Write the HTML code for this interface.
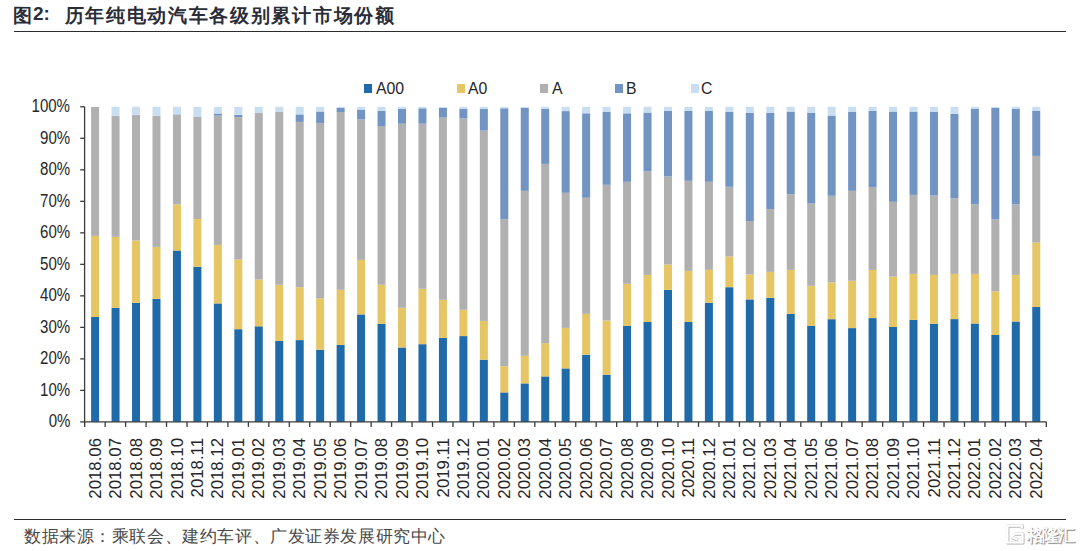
<!DOCTYPE html>
<html><head><meta charset="utf-8">
<style>
html,body{margin:0;padding:0;background:#fff;}
body{width:1080px;height:551px;position:relative;overflow:hidden;font-family:"Liberation Sans",sans-serif;color:#262626;}
.t1,.t2,.t3{position:absolute;white-space:nowrap;color:#2a2d38;font-weight:bold;}
.t1{left:13px;top:3px;font-size:18.5px;}
.t2{left:33px;top:3px;font-size:19px;}
.t3{left:64.5px;top:3px;font-size:19px;letter-spacing:1.7px;}
.hline{position:absolute;left:14px;width:1052px;height:1.3px;background:#2c2c2c;}
.leg{position:absolute;top:79px;font-size:17px;line-height:20px;white-space:nowrap;transform:scaleX(0.93);transform-origin:left center;}
.sw{position:absolute;width:8px;height:8.7px;top:84px;}
.yl{position:absolute;right:1009.7px;font-size:17.6px;line-height:21px;transform:scaleX(0.855);transform-origin:right center;white-space:nowrap;}
.xl{position:absolute;top:438px;font-size:16.8px;line-height:20px;white-space:nowrap;transform-origin:0 0;transform:rotate(-90deg) translate(-100%,-10px);}
.src{position:absolute;left:24px;top:526px;font-size:16.5px;letter-spacing:0.58px;white-space:nowrap;color:#474747;font-family:"Liberation Serif",serif;}
.wm{position:absolute;left:1027px;top:524px;font-size:17px;font-weight:bold;letter-spacing:-1.6px;color:#fff;white-space:nowrap;text-shadow:0.7px 0.7px 0.8px rgba(0,0,0,0.5),-0.4px -0.4px 0.6px rgba(0,0,0,0.2);}

svg{position:absolute;left:0;top:0;}
</style></head><body>
<div class="t1">图</div><div class="t2">2:</div><div class="t3">历年纯电动汽车各级别累计市场份额</div>
<div class="hline" style="top:30.8px"></div>
<svg width="1080" height="551" viewBox="0 0 1080 551">
<rect x="91.10" y="317.00" width="8.0" height="104.90" fill="#1f6aa8"/><rect x="91.10" y="235.90" width="8.0" height="81.10" fill="#e6c565"/><rect x="91.10" y="107.00" width="8.0" height="128.90" fill="#b0b0b0"/><rect x="111.56" y="307.80" width="8.0" height="114.10" fill="#1f6aa8"/><rect x="111.56" y="236.90" width="8.0" height="70.90" fill="#e6c565"/><rect x="111.56" y="115.70" width="8.0" height="121.20" fill="#b0b0b0"/><rect x="111.56" y="106.80" width="8.0" height="8.90" fill="#c9def1"/><rect x="132.02" y="302.80" width="8.0" height="119.10" fill="#1f6aa8"/><rect x="132.02" y="240.50" width="8.0" height="62.30" fill="#e6c565"/><rect x="132.02" y="115.20" width="8.0" height="125.30" fill="#b0b0b0"/><rect x="132.02" y="114.80" width="8.0" height="0.40" fill="#7294c2"/><rect x="132.02" y="106.80" width="8.0" height="8.00" fill="#c9def1"/><rect x="152.48" y="298.80" width="8.0" height="123.10" fill="#1f6aa8"/><rect x="152.48" y="246.90" width="8.0" height="51.90" fill="#e6c565"/><rect x="152.48" y="115.70" width="8.0" height="131.20" fill="#b0b0b0"/><rect x="152.48" y="106.80" width="8.0" height="8.90" fill="#c9def1"/><rect x="172.94" y="250.50" width="8.0" height="171.40" fill="#1f6aa8"/><rect x="172.94" y="204.50" width="8.0" height="46.00" fill="#e6c565"/><rect x="172.94" y="114.80" width="8.0" height="89.70" fill="#b0b0b0"/><rect x="172.94" y="114.40" width="8.0" height="0.40" fill="#7294c2"/><rect x="172.94" y="106.80" width="8.0" height="7.60" fill="#c9def1"/><rect x="193.40" y="266.90" width="8.0" height="155.00" fill="#1f6aa8"/><rect x="193.40" y="219.00" width="8.0" height="47.90" fill="#e6c565"/><rect x="193.40" y="117.00" width="8.0" height="102.00" fill="#b0b0b0"/><rect x="193.40" y="106.80" width="8.0" height="10.20" fill="#c9def1"/><rect x="213.86" y="303.40" width="8.0" height="118.50" fill="#1f6aa8"/><rect x="213.86" y="244.90" width="8.0" height="58.50" fill="#e6c565"/><rect x="213.86" y="115.70" width="8.0" height="129.20" fill="#b0b0b0"/><rect x="213.86" y="113.50" width="8.0" height="2.20" fill="#7294c2"/><rect x="213.86" y="106.80" width="8.0" height="6.70" fill="#c9def1"/><rect x="234.32" y="329.20" width="8.0" height="92.70" fill="#1f6aa8"/><rect x="234.32" y="259.30" width="8.0" height="69.90" fill="#e6c565"/><rect x="234.32" y="117.00" width="8.0" height="142.30" fill="#b0b0b0"/><rect x="234.32" y="114.80" width="8.0" height="2.20" fill="#7294c2"/><rect x="234.32" y="106.80" width="8.0" height="8.00" fill="#c9def1"/><rect x="254.78" y="326.30" width="8.0" height="95.60" fill="#1f6aa8"/><rect x="254.78" y="279.50" width="8.0" height="46.80" fill="#e6c565"/><rect x="254.78" y="112.60" width="8.0" height="166.90" fill="#b0b0b0"/><rect x="254.78" y="106.80" width="8.0" height="5.80" fill="#c9def1"/><rect x="275.24" y="340.90" width="8.0" height="81.00" fill="#1f6aa8"/><rect x="275.24" y="284.80" width="8.0" height="56.10" fill="#e6c565"/><rect x="275.24" y="112.00" width="8.0" height="172.80" fill="#b0b0b0"/><rect x="275.24" y="106.80" width="8.0" height="5.20" fill="#c9def1"/><rect x="295.70" y="340.10" width="8.0" height="81.80" fill="#1f6aa8"/><rect x="295.70" y="287.20" width="8.0" height="52.90" fill="#e6c565"/><rect x="295.70" y="121.90" width="8.0" height="165.30" fill="#b0b0b0"/><rect x="295.70" y="114.40" width="8.0" height="7.50" fill="#7294c2"/><rect x="295.70" y="106.80" width="8.0" height="7.60" fill="#c9def1"/><rect x="316.16" y="349.70" width="8.0" height="72.20" fill="#1f6aa8"/><rect x="316.16" y="298.40" width="8.0" height="51.30" fill="#e6c565"/><rect x="316.16" y="123.10" width="8.0" height="175.30" fill="#b0b0b0"/><rect x="316.16" y="111.50" width="8.0" height="11.60" fill="#7294c2"/><rect x="316.16" y="106.80" width="8.0" height="4.70" fill="#c9def1"/><rect x="336.62" y="344.90" width="8.0" height="77.00" fill="#1f6aa8"/><rect x="336.62" y="289.80" width="8.0" height="55.10" fill="#e6c565"/><rect x="336.62" y="112.00" width="8.0" height="177.80" fill="#b0b0b0"/><rect x="336.62" y="108.00" width="8.0" height="4.00" fill="#7294c2"/><rect x="336.62" y="106.80" width="8.0" height="1.20" fill="#c9def1"/><rect x="357.08" y="314.40" width="8.0" height="107.50" fill="#1f6aa8"/><rect x="357.08" y="259.90" width="8.0" height="54.50" fill="#e6c565"/><rect x="357.08" y="119.40" width="8.0" height="140.50" fill="#b0b0b0"/><rect x="357.08" y="109.60" width="8.0" height="9.80" fill="#7294c2"/><rect x="357.08" y="106.80" width="8.0" height="2.80" fill="#c9def1"/><rect x="377.54" y="323.70" width="8.0" height="98.20" fill="#1f6aa8"/><rect x="377.54" y="284.80" width="8.0" height="38.90" fill="#e6c565"/><rect x="377.54" y="126.00" width="8.0" height="158.80" fill="#b0b0b0"/><rect x="377.54" y="110.70" width="8.0" height="15.30" fill="#7294c2"/><rect x="377.54" y="106.80" width="8.0" height="3.90" fill="#c9def1"/><rect x="398.00" y="347.50" width="8.0" height="74.40" fill="#1f6aa8"/><rect x="398.00" y="307.80" width="8.0" height="39.70" fill="#e6c565"/><rect x="398.00" y="123.70" width="8.0" height="184.10" fill="#b0b0b0"/><rect x="398.00" y="108.90" width="8.0" height="14.80" fill="#7294c2"/><rect x="398.00" y="106.80" width="8.0" height="2.10" fill="#c9def1"/><rect x="418.46" y="344.20" width="8.0" height="77.70" fill="#1f6aa8"/><rect x="418.46" y="288.80" width="8.0" height="55.40" fill="#e6c565"/><rect x="418.46" y="123.70" width="8.0" height="165.10" fill="#b0b0b0"/><rect x="418.46" y="108.30" width="8.0" height="15.40" fill="#7294c2"/><rect x="418.46" y="106.80" width="8.0" height="1.50" fill="#c9def1"/><rect x="438.92" y="337.90" width="8.0" height="84.00" fill="#1f6aa8"/><rect x="438.92" y="299.80" width="8.0" height="38.10" fill="#e6c565"/><rect x="438.92" y="117.60" width="8.0" height="182.20" fill="#b0b0b0"/><rect x="438.92" y="107.80" width="8.0" height="9.80" fill="#7294c2"/><rect x="438.92" y="106.80" width="8.0" height="1.00" fill="#c9def1"/><rect x="459.38" y="336.10" width="8.0" height="85.80" fill="#1f6aa8"/><rect x="459.38" y="309.80" width="8.0" height="26.30" fill="#e6c565"/><rect x="459.38" y="118.50" width="8.0" height="191.30" fill="#b0b0b0"/><rect x="459.38" y="108.90" width="8.0" height="9.60" fill="#7294c2"/><rect x="459.38" y="106.80" width="8.0" height="2.10" fill="#c9def1"/><rect x="479.84" y="359.70" width="8.0" height="62.20" fill="#1f6aa8"/><rect x="479.84" y="320.90" width="8.0" height="38.80" fill="#e6c565"/><rect x="479.84" y="130.60" width="8.0" height="190.30" fill="#b0b0b0"/><rect x="479.84" y="108.90" width="8.0" height="21.70" fill="#7294c2"/><rect x="479.84" y="106.80" width="8.0" height="2.10" fill="#c9def1"/><rect x="500.30" y="392.40" width="8.0" height="29.50" fill="#1f6aa8"/><rect x="500.30" y="366.20" width="8.0" height="26.20" fill="#e6c565"/><rect x="500.30" y="219.40" width="8.0" height="146.80" fill="#b0b0b0"/><rect x="500.30" y="108.30" width="8.0" height="111.10" fill="#7294c2"/><rect x="500.30" y="106.80" width="8.0" height="1.50" fill="#c9def1"/><rect x="520.76" y="383.40" width="8.0" height="38.50" fill="#1f6aa8"/><rect x="520.76" y="355.80" width="8.0" height="27.60" fill="#e6c565"/><rect x="520.76" y="190.80" width="8.0" height="165.00" fill="#b0b0b0"/><rect x="520.76" y="107.80" width="8.0" height="83.00" fill="#7294c2"/><rect x="520.76" y="106.80" width="8.0" height="1.00" fill="#c9def1"/><rect x="541.22" y="376.40" width="8.0" height="45.50" fill="#1f6aa8"/><rect x="541.22" y="343.10" width="8.0" height="33.30" fill="#e6c565"/><rect x="541.22" y="163.90" width="8.0" height="179.20" fill="#b0b0b0"/><rect x="541.22" y="108.90" width="8.0" height="55.00" fill="#7294c2"/><rect x="541.22" y="106.80" width="8.0" height="2.10" fill="#c9def1"/><rect x="561.68" y="368.40" width="8.0" height="53.50" fill="#1f6aa8"/><rect x="561.68" y="327.90" width="8.0" height="40.50" fill="#e6c565"/><rect x="561.68" y="192.80" width="8.0" height="135.10" fill="#b0b0b0"/><rect x="561.68" y="111.10" width="8.0" height="81.70" fill="#7294c2"/><rect x="561.68" y="106.80" width="8.0" height="4.30" fill="#c9def1"/><rect x="582.14" y="354.70" width="8.0" height="67.20" fill="#1f6aa8"/><rect x="582.14" y="313.90" width="8.0" height="40.80" fill="#e6c565"/><rect x="582.14" y="197.80" width="8.0" height="116.10" fill="#b0b0b0"/><rect x="582.14" y="113.30" width="8.0" height="84.50" fill="#7294c2"/><rect x="582.14" y="106.80" width="8.0" height="6.50" fill="#c9def1"/><rect x="602.60" y="374.70" width="8.0" height="47.20" fill="#1f6aa8"/><rect x="602.60" y="320.50" width="8.0" height="54.20" fill="#e6c565"/><rect x="602.60" y="184.80" width="8.0" height="135.70" fill="#b0b0b0"/><rect x="602.60" y="112.00" width="8.0" height="72.80" fill="#7294c2"/><rect x="602.60" y="106.80" width="8.0" height="5.20" fill="#c9def1"/><rect x="623.06" y="325.70" width="8.0" height="96.20" fill="#1f6aa8"/><rect x="623.06" y="283.80" width="8.0" height="41.90" fill="#e6c565"/><rect x="623.06" y="181.80" width="8.0" height="102.00" fill="#b0b0b0"/><rect x="623.06" y="113.30" width="8.0" height="68.50" fill="#7294c2"/><rect x="623.06" y="106.80" width="8.0" height="6.50" fill="#c9def1"/><rect x="643.52" y="322.00" width="8.0" height="99.90" fill="#1f6aa8"/><rect x="643.52" y="274.90" width="8.0" height="47.10" fill="#e6c565"/><rect x="643.52" y="171.30" width="8.0" height="103.60" fill="#b0b0b0"/><rect x="643.52" y="112.60" width="8.0" height="58.70" fill="#7294c2"/><rect x="643.52" y="106.80" width="8.0" height="5.80" fill="#c9def1"/><rect x="663.98" y="289.80" width="8.0" height="132.10" fill="#1f6aa8"/><rect x="663.98" y="264.50" width="8.0" height="25.30" fill="#e6c565"/><rect x="663.98" y="176.40" width="8.0" height="88.10" fill="#b0b0b0"/><rect x="663.98" y="110.70" width="8.0" height="65.70" fill="#7294c2"/><rect x="663.98" y="106.80" width="8.0" height="3.90" fill="#c9def1"/><rect x="684.44" y="322.00" width="8.0" height="99.90" fill="#1f6aa8"/><rect x="684.44" y="270.90" width="8.0" height="51.10" fill="#e6c565"/><rect x="684.44" y="180.80" width="8.0" height="90.10" fill="#b0b0b0"/><rect x="684.44" y="110.70" width="8.0" height="70.10" fill="#7294c2"/><rect x="684.44" y="106.80" width="8.0" height="3.90" fill="#c9def1"/><rect x="704.90" y="302.80" width="8.0" height="119.10" fill="#1f6aa8"/><rect x="704.90" y="269.90" width="8.0" height="32.90" fill="#e6c565"/><rect x="704.90" y="181.80" width="8.0" height="88.10" fill="#b0b0b0"/><rect x="704.90" y="111.00" width="8.0" height="70.80" fill="#7294c2"/><rect x="704.90" y="106.80" width="8.0" height="4.20" fill="#c9def1"/><rect x="725.36" y="287.20" width="8.0" height="134.70" fill="#1f6aa8"/><rect x="725.36" y="256.50" width="8.0" height="30.70" fill="#e6c565"/><rect x="725.36" y="186.80" width="8.0" height="69.70" fill="#b0b0b0"/><rect x="725.36" y="112.00" width="8.0" height="74.80" fill="#7294c2"/><rect x="725.36" y="106.80" width="8.0" height="5.20" fill="#c9def1"/><rect x="745.82" y="299.40" width="8.0" height="122.50" fill="#1f6aa8"/><rect x="745.82" y="274.50" width="8.0" height="24.90" fill="#e6c565"/><rect x="745.82" y="221.00" width="8.0" height="53.50" fill="#b0b0b0"/><rect x="745.82" y="113.00" width="8.0" height="108.00" fill="#7294c2"/><rect x="745.82" y="106.80" width="8.0" height="6.20" fill="#c9def1"/><rect x="766.28" y="297.80" width="8.0" height="124.10" fill="#1f6aa8"/><rect x="766.28" y="271.90" width="8.0" height="25.90" fill="#e6c565"/><rect x="766.28" y="209.00" width="8.0" height="62.90" fill="#b0b0b0"/><rect x="766.28" y="113.00" width="8.0" height="96.00" fill="#7294c2"/><rect x="766.28" y="106.80" width="8.0" height="6.20" fill="#c9def1"/><rect x="786.74" y="313.90" width="8.0" height="108.00" fill="#1f6aa8"/><rect x="786.74" y="269.90" width="8.0" height="44.00" fill="#e6c565"/><rect x="786.74" y="194.20" width="8.0" height="75.70" fill="#b0b0b0"/><rect x="786.74" y="111.60" width="8.0" height="82.60" fill="#7294c2"/><rect x="786.74" y="106.80" width="8.0" height="4.80" fill="#c9def1"/><rect x="807.20" y="325.70" width="8.0" height="96.20" fill="#1f6aa8"/><rect x="807.20" y="285.80" width="8.0" height="39.90" fill="#e6c565"/><rect x="807.20" y="203.40" width="8.0" height="82.40" fill="#b0b0b0"/><rect x="807.20" y="113.00" width="8.0" height="90.40" fill="#7294c2"/><rect x="807.20" y="106.80" width="8.0" height="6.20" fill="#c9def1"/><rect x="827.66" y="319.20" width="8.0" height="102.70" fill="#1f6aa8"/><rect x="827.66" y="282.40" width="8.0" height="36.80" fill="#e6c565"/><rect x="827.66" y="195.80" width="8.0" height="86.60" fill="#b0b0b0"/><rect x="827.66" y="115.60" width="8.0" height="80.20" fill="#7294c2"/><rect x="827.66" y="106.80" width="8.0" height="8.80" fill="#c9def1"/><rect x="848.12" y="328.10" width="8.0" height="93.80" fill="#1f6aa8"/><rect x="848.12" y="280.80" width="8.0" height="47.30" fill="#e6c565"/><rect x="848.12" y="190.80" width="8.0" height="90.00" fill="#b0b0b0"/><rect x="848.12" y="112.00" width="8.0" height="78.80" fill="#7294c2"/><rect x="848.12" y="106.80" width="8.0" height="5.20" fill="#c9def1"/><rect x="868.58" y="318.10" width="8.0" height="103.80" fill="#1f6aa8"/><rect x="868.58" y="269.90" width="8.0" height="48.20" fill="#e6c565"/><rect x="868.58" y="187.20" width="8.0" height="82.70" fill="#b0b0b0"/><rect x="868.58" y="111.00" width="8.0" height="76.20" fill="#7294c2"/><rect x="868.58" y="106.80" width="8.0" height="4.20" fill="#c9def1"/><rect x="889.04" y="327.00" width="8.0" height="94.90" fill="#1f6aa8"/><rect x="889.04" y="276.50" width="8.0" height="50.50" fill="#e6c565"/><rect x="889.04" y="201.80" width="8.0" height="74.70" fill="#b0b0b0"/><rect x="889.04" y="111.60" width="8.0" height="90.20" fill="#7294c2"/><rect x="889.04" y="106.80" width="8.0" height="4.80" fill="#c9def1"/><rect x="909.50" y="319.80" width="8.0" height="102.10" fill="#1f6aa8"/><rect x="909.50" y="273.90" width="8.0" height="45.90" fill="#e6c565"/><rect x="909.50" y="194.90" width="8.0" height="79.00" fill="#b0b0b0"/><rect x="909.50" y="111.60" width="8.0" height="83.30" fill="#7294c2"/><rect x="909.50" y="106.80" width="8.0" height="4.80" fill="#c9def1"/><rect x="929.96" y="323.70" width="8.0" height="98.20" fill="#1f6aa8"/><rect x="929.96" y="274.90" width="8.0" height="48.80" fill="#e6c565"/><rect x="929.96" y="195.50" width="8.0" height="79.40" fill="#b0b0b0"/><rect x="929.96" y="112.00" width="8.0" height="83.50" fill="#7294c2"/><rect x="929.96" y="106.80" width="8.0" height="5.20" fill="#c9def1"/><rect x="950.42" y="319.10" width="8.0" height="102.80" fill="#1f6aa8"/><rect x="950.42" y="273.90" width="8.0" height="45.20" fill="#e6c565"/><rect x="950.42" y="198.30" width="8.0" height="75.60" fill="#b0b0b0"/><rect x="950.42" y="114.00" width="8.0" height="84.30" fill="#7294c2"/><rect x="950.42" y="106.80" width="8.0" height="7.20" fill="#c9def1"/><rect x="970.88" y="323.50" width="8.0" height="98.40" fill="#1f6aa8"/><rect x="970.88" y="273.90" width="8.0" height="49.60" fill="#e6c565"/><rect x="970.88" y="204.30" width="8.0" height="69.60" fill="#b0b0b0"/><rect x="970.88" y="109.00" width="8.0" height="95.30" fill="#7294c2"/><rect x="970.88" y="106.80" width="8.0" height="2.20" fill="#c9def1"/><rect x="991.34" y="335.00" width="8.0" height="86.90" fill="#1f6aa8"/><rect x="991.34" y="291.30" width="8.0" height="43.70" fill="#e6c565"/><rect x="991.34" y="219.40" width="8.0" height="71.90" fill="#b0b0b0"/><rect x="991.34" y="108.00" width="8.0" height="111.40" fill="#7294c2"/><rect x="991.34" y="106.80" width="8.0" height="1.20" fill="#c9def1"/><rect x="1011.80" y="321.50" width="8.0" height="100.40" fill="#1f6aa8"/><rect x="1011.80" y="274.90" width="8.0" height="46.60" fill="#e6c565"/><rect x="1011.80" y="204.30" width="8.0" height="70.60" fill="#b0b0b0"/><rect x="1011.80" y="109.00" width="8.0" height="95.30" fill="#7294c2"/><rect x="1011.80" y="106.80" width="8.0" height="2.20" fill="#c9def1"/><rect x="1032.26" y="306.90" width="8.0" height="115.00" fill="#1f6aa8"/><rect x="1032.26" y="242.60" width="8.0" height="64.30" fill="#e6c565"/><rect x="1032.26" y="155.90" width="8.0" height="86.70" fill="#b0b0b0"/><rect x="1032.26" y="111.00" width="8.0" height="44.90" fill="#7294c2"/><rect x="1032.26" y="106.80" width="8.0" height="4.20" fill="#c9def1"/>
<line x1="84.6" y1="106.8" x2="84.6" y2="422.4" stroke="#3a3a3a" stroke-width="1.3"/><line x1="84.0" y1="421.9" x2="1046.62" y2="421.9" stroke="#3a3a3a" stroke-width="1.3"/><line x1="80.2" y1="421.90" x2="84.6" y2="421.90" stroke="#3a3a3a" stroke-width="1.3"/><line x1="80.2" y1="390.39" x2="84.6" y2="390.39" stroke="#3a3a3a" stroke-width="1.3"/><line x1="80.2" y1="358.88" x2="84.6" y2="358.88" stroke="#3a3a3a" stroke-width="1.3"/><line x1="80.2" y1="327.37" x2="84.6" y2="327.37" stroke="#3a3a3a" stroke-width="1.3"/><line x1="80.2" y1="295.86" x2="84.6" y2="295.86" stroke="#3a3a3a" stroke-width="1.3"/><line x1="80.2" y1="264.35" x2="84.6" y2="264.35" stroke="#3a3a3a" stroke-width="1.3"/><line x1="80.2" y1="232.84" x2="84.6" y2="232.84" stroke="#3a3a3a" stroke-width="1.3"/><line x1="80.2" y1="201.33" x2="84.6" y2="201.33" stroke="#3a3a3a" stroke-width="1.3"/><line x1="80.2" y1="169.82" x2="84.6" y2="169.82" stroke="#3a3a3a" stroke-width="1.3"/><line x1="80.2" y1="138.31" x2="84.6" y2="138.31" stroke="#3a3a3a" stroke-width="1.3"/><line x1="80.2" y1="106.80" x2="84.6" y2="106.80" stroke="#3a3a3a" stroke-width="1.3"/><line x1="84.70" y1="421.9" x2="84.70" y2="426.90" stroke="#3a3a3a" stroke-width="1.3"/><line x1="105.16" y1="421.9" x2="105.16" y2="426.90" stroke="#3a3a3a" stroke-width="1.3"/><line x1="125.62" y1="421.9" x2="125.62" y2="426.90" stroke="#3a3a3a" stroke-width="1.3"/><line x1="146.08" y1="421.9" x2="146.08" y2="426.90" stroke="#3a3a3a" stroke-width="1.3"/><line x1="166.54" y1="421.9" x2="166.54" y2="426.90" stroke="#3a3a3a" stroke-width="1.3"/><line x1="187.00" y1="421.9" x2="187.00" y2="426.90" stroke="#3a3a3a" stroke-width="1.3"/><line x1="207.46" y1="421.9" x2="207.46" y2="426.90" stroke="#3a3a3a" stroke-width="1.3"/><line x1="227.92" y1="421.9" x2="227.92" y2="426.90" stroke="#3a3a3a" stroke-width="1.3"/><line x1="248.38" y1="421.9" x2="248.38" y2="426.90" stroke="#3a3a3a" stroke-width="1.3"/><line x1="268.84" y1="421.9" x2="268.84" y2="426.90" stroke="#3a3a3a" stroke-width="1.3"/><line x1="289.30" y1="421.9" x2="289.30" y2="426.90" stroke="#3a3a3a" stroke-width="1.3"/><line x1="309.76" y1="421.9" x2="309.76" y2="426.90" stroke="#3a3a3a" stroke-width="1.3"/><line x1="330.22" y1="421.9" x2="330.22" y2="426.90" stroke="#3a3a3a" stroke-width="1.3"/><line x1="350.68" y1="421.9" x2="350.68" y2="426.90" stroke="#3a3a3a" stroke-width="1.3"/><line x1="371.14" y1="421.9" x2="371.14" y2="426.90" stroke="#3a3a3a" stroke-width="1.3"/><line x1="391.60" y1="421.9" x2="391.60" y2="426.90" stroke="#3a3a3a" stroke-width="1.3"/><line x1="412.06" y1="421.9" x2="412.06" y2="426.90" stroke="#3a3a3a" stroke-width="1.3"/><line x1="432.52" y1="421.9" x2="432.52" y2="426.90" stroke="#3a3a3a" stroke-width="1.3"/><line x1="452.98" y1="421.9" x2="452.98" y2="426.90" stroke="#3a3a3a" stroke-width="1.3"/><line x1="473.44" y1="421.9" x2="473.44" y2="426.90" stroke="#3a3a3a" stroke-width="1.3"/><line x1="493.90" y1="421.9" x2="493.90" y2="426.90" stroke="#3a3a3a" stroke-width="1.3"/><line x1="514.36" y1="421.9" x2="514.36" y2="426.90" stroke="#3a3a3a" stroke-width="1.3"/><line x1="534.82" y1="421.9" x2="534.82" y2="426.90" stroke="#3a3a3a" stroke-width="1.3"/><line x1="555.28" y1="421.9" x2="555.28" y2="426.90" stroke="#3a3a3a" stroke-width="1.3"/><line x1="575.74" y1="421.9" x2="575.74" y2="426.90" stroke="#3a3a3a" stroke-width="1.3"/><line x1="596.20" y1="421.9" x2="596.20" y2="426.90" stroke="#3a3a3a" stroke-width="1.3"/><line x1="616.66" y1="421.9" x2="616.66" y2="426.90" stroke="#3a3a3a" stroke-width="1.3"/><line x1="637.12" y1="421.9" x2="637.12" y2="426.90" stroke="#3a3a3a" stroke-width="1.3"/><line x1="657.58" y1="421.9" x2="657.58" y2="426.90" stroke="#3a3a3a" stroke-width="1.3"/><line x1="678.04" y1="421.9" x2="678.04" y2="426.90" stroke="#3a3a3a" stroke-width="1.3"/><line x1="698.50" y1="421.9" x2="698.50" y2="426.90" stroke="#3a3a3a" stroke-width="1.3"/><line x1="718.96" y1="421.9" x2="718.96" y2="426.90" stroke="#3a3a3a" stroke-width="1.3"/><line x1="739.42" y1="421.9" x2="739.42" y2="426.90" stroke="#3a3a3a" stroke-width="1.3"/><line x1="759.88" y1="421.9" x2="759.88" y2="426.90" stroke="#3a3a3a" stroke-width="1.3"/><line x1="780.34" y1="421.9" x2="780.34" y2="426.90" stroke="#3a3a3a" stroke-width="1.3"/><line x1="800.80" y1="421.9" x2="800.80" y2="426.90" stroke="#3a3a3a" stroke-width="1.3"/><line x1="821.26" y1="421.9" x2="821.26" y2="426.90" stroke="#3a3a3a" stroke-width="1.3"/><line x1="841.72" y1="421.9" x2="841.72" y2="426.90" stroke="#3a3a3a" stroke-width="1.3"/><line x1="862.18" y1="421.9" x2="862.18" y2="426.90" stroke="#3a3a3a" stroke-width="1.3"/><line x1="882.64" y1="421.9" x2="882.64" y2="426.90" stroke="#3a3a3a" stroke-width="1.3"/><line x1="903.10" y1="421.9" x2="903.10" y2="426.90" stroke="#3a3a3a" stroke-width="1.3"/><line x1="923.56" y1="421.9" x2="923.56" y2="426.90" stroke="#3a3a3a" stroke-width="1.3"/><line x1="944.02" y1="421.9" x2="944.02" y2="426.90" stroke="#3a3a3a" stroke-width="1.3"/><line x1="964.48" y1="421.9" x2="964.48" y2="426.90" stroke="#3a3a3a" stroke-width="1.3"/><line x1="984.94" y1="421.9" x2="984.94" y2="426.90" stroke="#3a3a3a" stroke-width="1.3"/><line x1="1005.40" y1="421.9" x2="1005.40" y2="426.90" stroke="#3a3a3a" stroke-width="1.3"/><line x1="1025.86" y1="421.9" x2="1025.86" y2="426.90" stroke="#3a3a3a" stroke-width="1.3"/><line x1="1046.32" y1="421.9" x2="1046.32" y2="426.90" stroke="#3a3a3a" stroke-width="1.3"/>
</svg>
<div class="sw" style="left:364px;background:#1f6aa8"></div><div class="leg" style="left:375.5px">A00</div>
<div class="sw" style="left:457px;background:#e6c565"></div><div class="leg" style="left:467.8px">A0</div>
<div class="sw" style="left:540.2px;background:#b0b0b0"></div><div class="leg" style="left:551.5px">A</div>
<div class="sw" style="left:615.3px;background:#7294c2"></div><div class="leg" style="left:625.5px">B</div>
<div class="sw" style="left:690.8px;background:#c9def1"></div><div class="leg" style="left:700.9px">C</div>
<div class="yl" style="top:411.40px">0%</div><div class="yl" style="top:379.89px">10%</div><div class="yl" style="top:348.38px">20%</div><div class="yl" style="top:316.87px">30%</div><div class="yl" style="top:285.36px">40%</div><div class="yl" style="top:253.85px">50%</div><div class="yl" style="top:222.34px">60%</div><div class="yl" style="top:190.83px">70%</div><div class="yl" style="top:159.32px">80%</div><div class="yl" style="top:127.81px">90%</div><div class="yl" style="top:96.30px">100%</div>
<div class="xl" style="left:95.70px">2018.06</div><div class="xl" style="left:116.16px">2018.07</div><div class="xl" style="left:136.62px">2018.08</div><div class="xl" style="left:157.08px">2018.09</div><div class="xl" style="left:177.54px">2018.10</div><div class="xl" style="left:198.00px">2018.11</div><div class="xl" style="left:218.46px">2018.12</div><div class="xl" style="left:238.92px">2019.01</div><div class="xl" style="left:259.38px">2019.02</div><div class="xl" style="left:279.84px">2019.03</div><div class="xl" style="left:300.30px">2019.04</div><div class="xl" style="left:320.76px">2019.05</div><div class="xl" style="left:341.22px">2019.06</div><div class="xl" style="left:361.68px">2019.07</div><div class="xl" style="left:382.14px">2019.08</div><div class="xl" style="left:402.60px">2019.09</div><div class="xl" style="left:423.06px">2019.10</div><div class="xl" style="left:443.52px">2019.11</div><div class="xl" style="left:463.98px">2019.12</div><div class="xl" style="left:484.44px">2020.01</div><div class="xl" style="left:504.90px">2020.02</div><div class="xl" style="left:525.36px">2020.03</div><div class="xl" style="left:545.82px">2020.04</div><div class="xl" style="left:566.28px">2020.05</div><div class="xl" style="left:586.74px">2020.06</div><div class="xl" style="left:607.20px">2020.07</div><div class="xl" style="left:627.66px">2020.08</div><div class="xl" style="left:648.12px">2020.09</div><div class="xl" style="left:668.58px">2020.10</div><div class="xl" style="left:689.04px">2020.11</div><div class="xl" style="left:709.50px">2020.12</div><div class="xl" style="left:729.96px">2021.01</div><div class="xl" style="left:750.42px">2021.02</div><div class="xl" style="left:770.88px">2021.03</div><div class="xl" style="left:791.34px">2021.04</div><div class="xl" style="left:811.80px">2021.05</div><div class="xl" style="left:832.26px">2021.06</div><div class="xl" style="left:852.72px">2021.07</div><div class="xl" style="left:873.18px">2021.08</div><div class="xl" style="left:893.64px">2021.09</div><div class="xl" style="left:914.10px">2021.10</div><div class="xl" style="left:934.56px">2021.11</div><div class="xl" style="left:955.02px">2021.12</div><div class="xl" style="left:975.48px">2022.01</div><div class="xl" style="left:995.94px">2022.02</div><div class="xl" style="left:1016.40px">2022.03</div><div class="xl" style="left:1036.86px">2022.04</div>
<div class="hline" style="top:518.6px"></div>
<div class="src">数据来源：乘联会、建约车评、广发证券发展研究中心</div>
<svg class="wmsvg" width="1080" height="551" viewBox="0 0 1080 551"><g fill="none" stroke-linejoin="round"><g stroke="#c4c4c4" stroke-width="3.6" transform="translate(0.5,0.5)"><path d="M1021.8,528.2 L1021.8,525.6 L1007.2,525.6 L1007.2,542.4 L1022.4,542.4 L1022.4,533.6 L1014.2,533.6"/><path d="M1011.5,537 L1017.5,539.5"/></g><g stroke="#fff" stroke-width="2.4"><path d="M1021.8,528.2 L1021.8,525.6 L1007.2,525.6 L1007.2,542.4 L1022.4,542.4 L1022.4,533.6 L1014.2,533.6"/><path d="M1011.5,537 L1017.5,539.5"/></g></g></svg><div class="wm">格隆汇</div>
</body></html>
